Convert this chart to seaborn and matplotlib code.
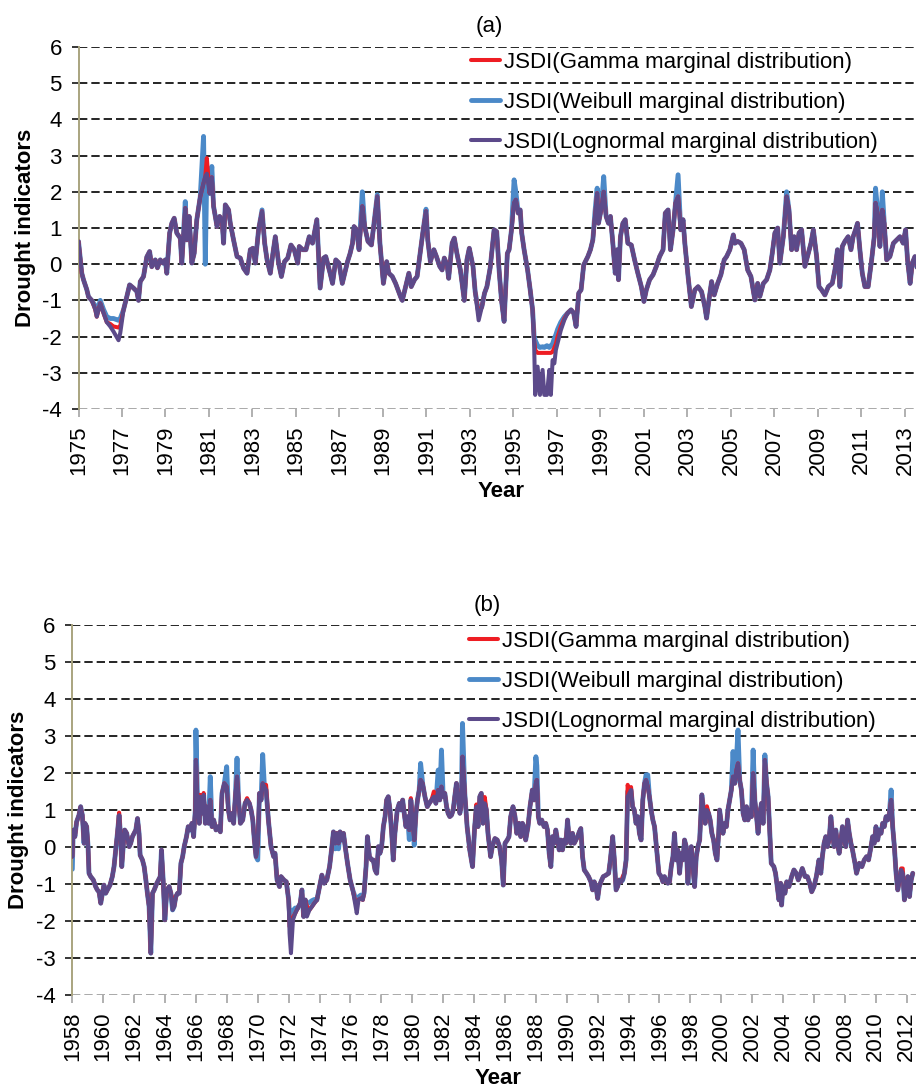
import numpy as np
import matplotlib
matplotlib.use("Agg")
import matplotlib.pyplot as plt
import seaborn as sns

# ---------------------------------------------------------------------------
# Monthly JSDI series (decimal years) for the two stations
# ---------------------------------------------------------------------------
SERIES_NAMES = [
    "JSDI(Gamma marginal distribution)",
    "JSDI(Weibull marginal distribution)",
    "JSDI(Lognormal marginal distribution)",
]

years_a = [
    1975.00, 1975.15, 1975.23, 1975.38, 1975.46, 1975.61, 1975.77, 1975.84, 1976.00, 1976.15,
    1976.30, 1976.46, 1976.61, 1976.84, 1976.92, 1977.07, 1977.22, 1977.35, 1977.53, 1977.68,
    1977.76, 1977.84, 1977.99, 1978.14, 1978.27, 1978.37, 1978.53, 1978.63, 1978.76, 1978.88,
    1978.99, 1979.06, 1979.19, 1979.29, 1979.40, 1979.52, 1979.68, 1979.75, 1979.91, 1979.98,
    1980.09, 1980.21, 1980.32, 1980.44, 1980.60, 1980.75, 1980.83, 1980.90, 1981.03, 1981.13,
    1981.21, 1981.37, 1981.49, 1981.60, 1981.67, 1981.75, 1981.90, 1981.98, 1982.13, 1982.29,
    1982.44, 1982.59, 1982.75, 1982.90, 1983.02, 1983.13, 1983.28, 1983.44, 1983.56, 1983.67,
    1983.82, 1983.94, 1984.05, 1984.20, 1984.33, 1984.47, 1984.62, 1984.77, 1984.92, 1985.08,
    1985.15, 1985.31, 1985.46, 1985.61, 1985.76, 1985.96, 1986.11, 1986.27, 1986.37, 1986.57,
    1986.68, 1986.83, 1986.98, 1987.13, 1987.24, 1987.37, 1987.49, 1987.60, 1987.67, 1987.79,
    1987.90, 1988.05, 1988.16, 1988.31, 1988.47, 1988.74, 1988.86, 1989.02, 1989.17, 1989.27,
    1989.43, 1989.58, 1989.81, 1989.89, 1990.04, 1990.19, 1990.30, 1990.45, 1990.57, 1990.73,
    1990.85, 1990.98, 1991.06, 1991.18, 1991.34, 1991.46, 1991.61, 1991.72, 1991.82, 1991.95,
    1992.02, 1992.18, 1992.28, 1992.40, 1992.56, 1992.74, 1992.86, 1992.97, 1993.14, 1993.24,
    1993.40, 1993.55, 1993.67, 1993.78, 1993.93, 1994.11, 1994.23, 1994.34, 1994.45, 1994.57,
    1994.72, 1994.80, 1994.91, 1995.03, 1995.11, 1995.22, 1995.31, 1995.38, 1995.49, 1995.65,
    1995.77, 1995.88, 1995.95, 1996.00, 1996.11, 1996.22, 1996.34, 1996.42, 1996.54, 1996.65,
    1996.72, 1996.80, 1996.88, 1996.95, 1997.03, 1997.18, 1997.34, 1997.49, 1997.65, 1997.77,
    1997.88, 1998.00, 1998.11, 1998.23, 1998.42, 1998.54, 1998.65, 1998.75, 1998.85, 1998.91,
    1999.03, 1999.15, 1999.26, 1999.37, 1999.46, 1999.57, 1999.68, 1999.77, 1999.83, 1999.92,
    2000.03, 2000.14, 2000.26, 2000.42, 2000.57, 2000.72, 2000.88, 2001.00, 2001.11, 2001.26,
    2001.42, 2001.57, 2001.72, 2001.88, 2001.98, 2002.11, 2002.22, 2002.34, 2002.45, 2002.57,
    2002.69, 2002.80, 2002.88, 2003.03, 2003.18, 2003.34, 2003.49, 2003.65, 2003.80, 2003.88,
    2003.99, 2004.11, 2004.23, 2004.39, 2004.54, 2004.69, 2004.80, 2004.95, 2005.11, 2005.18,
    2005.31, 2005.46, 2005.61, 2005.77, 2005.92, 2006.10, 2006.23, 2006.33, 2006.49, 2006.64,
    2006.79, 2006.90, 2007.02, 2007.15, 2007.25, 2007.41, 2007.56, 2007.67, 2007.79, 2007.91,
    2008.02, 2008.13, 2008.25, 2008.40, 2008.56, 2008.68, 2008.79, 2008.94, 2009.05, 2009.17,
    2009.32, 2009.48, 2009.66, 2009.78, 2009.90, 2010.01, 2010.12, 2010.24, 2010.39, 2010.52,
    2010.62, 2010.73, 2010.82, 2010.93, 2011.04, 2011.16, 2011.31, 2011.47, 2011.59, 2011.65,
    2011.77, 2011.85, 2011.96, 2012.05, 2012.16, 2012.31, 2012.47, 2012.62, 2012.77, 2012.92,
    2013.03, 2013.12, 2013.24, 2013.34, 2013.46, 2013.58,
]

lognormal_a = [
    0.63, -0.25, -0.43, -0.70, -0.90, -1.00, -1.25, -1.45, -1.08, -1.35,
    -1.60, -1.72, -1.86, -2.10, -1.90, -1.26, -0.90, -0.57, -0.66, -0.75,
    -1.00, -0.48, -0.34, 0.20, 0.35, -0.07, 0.12, -0.10, 0.12, 0.03,
    0.12, -0.25, 0.86, 1.13, 1.27, 0.86, 0.72, 0.03, 1.55, 0.67,
    1.32, 0.03, 0.30, 1.23, 1.87, 2.24, 2.42, 2.50, 1.96, 2.40,
    1.60, 1.04, 1.32, 1.23, 0.58, 1.64, 1.50, 1.13, 0.67, 0.21,
    0.17, -0.11, -0.25, 0.40, 0.44, 0.03, 0.95, 1.46, 0.58, 0.12,
    -0.25, 0.30, 0.76, 0.03, -0.34, 0.07, 0.17, 0.53, 0.40, 0.03,
    0.49, 0.40, 0.40, 0.76, 0.58, 1.23, -0.66, 0.17, 0.21, -0.25,
    -0.53, 0.12, 0.03, -0.53, -0.25, 0.07, 0.30, 0.58, 1.04, 0.95,
    0.40, 1.60, 1.04, 0.63, 0.53, 1.87, 0.58, -0.53, 0.07, -0.25,
    -0.34, -0.53, -0.90, -1.00, -0.62, -0.25, -0.62, -0.43, -0.34, 0.40,
    0.95, 1.46, 0.67, 0.07, 0.40, 0.21, -0.06, -0.16, 0.17, -0.02,
    -0.39, 0.58, 0.72, 0.30, -0.16, -1.00, 0.12, 0.44, -0.06, -0.76,
    -1.55, -1.17, -0.80, -0.62, -0.10, 0.95, 0.90, -0.16, -1.00, -1.58,
    0.30, 0.40, 0.95, 1.69, 1.78, 1.41, 1.50, 0.86, 0.40, -0.16,
    -0.71, -1.26, -2.18, -3.61, -2.83, -3.61, -2.92, -3.61, -3.61, -2.92,
    -3.61, -2.65, -2.74, -2.37, -2.18, -1.82, -1.54, -1.35, -1.26, -1.35,
    -1.72, -0.80, -0.71, -0.02, 0.21, 0.40, 0.67, 1.32, 1.96, 1.13,
    1.50, 2.00, 1.32, 1.13, 1.32, 0.58, -0.25, 0.40, -0.43, 0.76,
    1.13, 1.23, 0.58, 0.53, 0.12, -0.25, -0.62, -1.03, -0.71, -0.43,
    -0.29, -0.06, 0.21, 0.40, 1.41, 1.50, 0.40, 0.95, 1.69, 1.87,
    0.95, 1.23, 0.58, -0.34, -1.17, -0.71, -0.62, -0.76, -1.17, -1.49,
    -0.99, -0.48, -0.85, -0.53, -0.29, 0.12, 0.21, 0.40, 0.81, 0.58,
    0.63, 0.58, 0.40, -0.16, -0.34, -0.99, -0.53, -0.89, -0.53, -0.43,
    -0.16, 0.30, 0.86, 1.00, 0.03, 0.76, 1.87, 1.50, 0.40, 0.76,
    0.40, 0.86, 0.95, -0.06, 0.30, 0.58, 0.95, 0.21, -0.62, -0.71,
    -0.85, -0.62, -0.53, -0.16, 0.40, -0.62, 0.49, 0.63, 0.76, 0.40,
    0.76, 0.95, 1.13, 0.40, -0.25, -0.62, -0.62, 0.12, 0.76, 1.69,
    1.32, 0.49, 1.50, 1.13, 0.12, 0.21, 0.58, 0.67, 0.76, 0.58,
    0.95, 0.12, -0.53, 0.03, 0.21, -0.16,
]

# Months where the Gamma / Weibull curves separate from the Lognormal one
gamma_a_years = [1976.46, 1976.61, 1976.84, 1976.92, 1980.90, 1993.40,
                 1995.95, 1996.00, 1996.11, 1996.22, 1996.34, 1996.42, 1996.54,
                 1996.65, 1996.72, 1996.80, 1996.88, 1996.95, 1997.03, 1997.18, 1997.34]
gamma_a_vals = [-1.65, -1.72, -1.75, -1.70, 2.93, -1.40,
                -2.10, -2.37, -2.45, -2.45, -2.45, -2.45, -2.45,
                -2.45, -2.45, -2.42, -2.30, -2.20, -2.00, -1.72, -1.50]

weibull_a_years = [1975.77, 1975.84, 1976.00, 1976.15, 1976.30, 1976.46, 1976.61, 1976.84,
                   1976.92, 1979.91, 1980.75, 1980.83, 1980.90, 1981.03, 1981.13, 1983.44,
                   1988.05, 1988.74, 1990.98, 1993.40, 1995.03, 1995.11,
                   1995.95, 1996.00, 1996.11, 1996.22, 1996.34, 1996.42, 1996.54, 1996.65,
                   1996.72, 1996.80, 1996.88, 1996.95, 1997.03, 1997.18, 1997.34,
                   1998.75, 1998.85, 1999.15, 2002.57, 2007.56, 2011.65, 2011.96]
weibull_a_vals = [-1.15, -1.35, -1.00, -1.25, -1.45, -1.50, -1.50, -1.55,
                  -1.50, 1.73, 3.53, 0.00, 2.60, 1.95, 2.70, 1.50,
                  2.00, 1.92, 1.52, -1.32, 2.33, 2.00,
                  -2.00, -2.10, -2.25, -2.30, -2.28, -2.30, -2.25, -2.30,
                  -2.25, -2.20, -2.05, -1.95, -1.80, -1.60, -1.45,
                  1.45, 2.10, 2.42, 2.47, 2.00, 2.10, 2.00]

years_b = [
    1958.00, 1958.06, 1958.17, 1958.28, 1958.43, 1958.54, 1958.65, 1958.76, 1958.82, 1958.93,
    1959.02, 1959.08, 1959.19, 1959.36, 1959.51, 1959.62, 1959.73, 1959.84, 1959.95, 1960.05,
    1960.16, 1960.27, 1960.44, 1960.59, 1960.70, 1960.81, 1960.92, 1961.03, 1961.14, 1961.20,
    1961.31, 1961.39, 1961.52, 1961.68, 1961.78, 1961.89, 1962.00, 1962.11, 1962.22, 1962.32,
    1962.39, 1962.54, 1962.65, 1962.76, 1962.86, 1962.97, 1963.08, 1963.19, 1963.30, 1963.47,
    1963.69, 1963.77, 1963.88, 1963.99, 1964.12, 1964.27, 1964.38, 1964.49, 1964.59, 1964.70,
    1964.81, 1964.92, 1965.03, 1965.14, 1965.24, 1965.39, 1965.50, 1965.63, 1965.74, 1965.85,
    1965.96, 1966.00, 1966.11, 1966.22, 1966.28, 1966.39, 1966.50, 1966.61, 1966.71, 1966.82,
    1966.93, 1967.04, 1967.15, 1967.30, 1967.45, 1967.58, 1967.69, 1967.84, 1967.99, 1968.10,
    1968.21, 1968.34, 1968.44, 1968.55, 1968.66, 1968.76, 1968.88, 1969.03, 1969.18, 1969.31,
    1969.46, 1969.57, 1969.68, 1969.78, 1969.89, 1970.00, 1970.11, 1970.22, 1970.32, 1970.43,
    1970.54, 1970.69, 1970.86, 1971.03, 1971.12, 1971.25, 1971.41, 1971.51, 1971.69, 1971.85,
    1972.00, 1972.06, 1972.15, 1972.28, 1972.43, 1972.58, 1972.75, 1972.86, 1972.97, 1973.08,
    1973.18, 1973.35, 1973.51, 1973.66, 1973.83, 1974.00, 1974.15, 1974.30, 1974.47, 1974.65,
    1974.80, 1974.90, 1975.01, 1975.12, 1975.23, 1975.33, 1975.44, 1975.55, 1975.66, 1975.81,
    1975.98, 1976.15, 1976.30, 1976.41, 1976.52, 1976.67, 1976.80, 1976.88, 1977.01, 1977.10,
    1977.23, 1977.38, 1977.48, 1977.59, 1977.70, 1977.81, 1977.91, 1978.02, 1978.13, 1978.24,
    1978.34, 1978.45, 1978.56, 1978.67, 1978.77, 1978.88, 1979.03, 1979.16, 1979.27, 1979.38,
    1979.48, 1979.59, 1979.70, 1979.81, 1979.91, 1980.02, 1980.13, 1980.24, 1980.34, 1980.45,
    1980.54, 1980.67, 1980.82, 1980.97, 1981.10, 1981.25, 1981.40, 1981.53, 1981.68, 1981.78,
    1981.89, 1982.00, 1982.11, 1982.22, 1982.32, 1982.43, 1982.54, 1982.65, 1982.75, 1982.86,
    1982.97, 1983.08, 1983.18, 1983.25, 1983.40, 1983.55, 1983.72, 1983.90, 1984.04, 1984.15,
    1984.26, 1984.37, 1984.47, 1984.58, 1984.69, 1984.80, 1984.90, 1985.07, 1985.18, 1985.35,
    1985.50, 1985.65, 1985.78, 1985.89, 1986.00, 1986.15, 1986.26, 1986.37, 1986.52, 1986.65,
    1986.76, 1986.91, 1987.02, 1987.13, 1987.23, 1987.34, 1987.49, 1987.62, 1987.77, 1987.88,
    1988.00, 1988.06, 1988.16, 1988.25, 1988.38, 1988.53, 1988.64, 1988.75, 1988.86, 1988.97,
    1989.07, 1989.18, 1989.29, 1989.40, 1989.51, 1989.61, 1989.72, 1989.83, 1989.94, 1990.05,
    1990.16, 1990.26, 1990.37, 1990.48, 1990.59, 1990.70, 1990.81, 1990.91, 1991.02, 1991.13,
    1991.28, 1991.41, 1991.56, 1991.67, 1991.78, 1991.89, 1992.00, 1992.10, 1992.21, 1992.36,
    1992.54, 1992.71, 1992.82, 1992.97, 1993.08, 1993.19, 1993.29, 1993.40, 1993.51, 1993.62,
    1993.73, 1993.84, 1993.94, 1994.05, 1994.16, 1994.26, 1994.37, 1994.48, 1994.59, 1994.70,
    1994.81, 1994.92, 1995.03, 1995.13, 1995.24, 1995.35, 1995.46, 1995.57, 1995.68, 1995.78,
    1995.96, 1996.11, 1996.22, 1996.32, 1996.43, 1996.54, 1996.65, 1996.76, 1996.87, 1996.97,
    1997.08, 1997.19, 1997.30, 1997.41, 1997.52, 1997.62, 1997.73, 1997.84, 1997.95, 1998.06,
    1998.16, 1998.27, 1998.38, 1998.49, 1998.60, 1998.74, 1998.85, 1998.96, 1999.07, 1999.18,
    1999.28, 1999.39, 1999.50, 1999.61, 1999.72, 1999.83, 1999.89, 2000.00, 2000.11, 2000.22,
    2000.33, 2000.43, 2000.54, 2000.65, 2000.76, 2000.87, 2000.98, 2001.08, 2001.19, 2001.30,
    2001.41, 2001.52, 2001.63, 2001.73, 2001.84, 2001.95, 2002.06, 2002.17, 2002.28, 2002.38,
    2002.49, 2002.60, 2002.71, 2002.82, 2002.93, 2003.03, 2003.14, 2003.23, 2003.40, 2003.51,
    2003.62, 2003.73, 2003.84, 2003.90, 2003.99, 2004.12, 2004.23, 2004.38, 2004.55, 2004.70,
    2004.85, 2004.98, 2005.14, 2005.24, 2005.42, 2005.57, 2005.72, 2005.85, 2006.00, 2006.15,
    2006.32, 2006.44, 2006.54, 2006.65, 2006.76, 2006.87, 2006.98, 2007.09, 2007.19, 2007.30,
    2007.41, 2007.52, 2007.63, 2007.74, 2007.84, 2007.95, 2008.06, 2008.17, 2008.28, 2008.39,
    2008.49, 2008.65, 2008.75, 2008.93, 2009.10, 2009.25, 2009.40, 2009.53, 2009.69, 2009.79,
    2009.90, 2010.01, 2010.12, 2010.23, 2010.34, 2010.44, 2010.55, 2010.66, 2010.77, 2010.88,
    2010.99, 2011.09, 2011.20, 2011.31, 2011.42, 2011.53, 2011.64, 2011.74, 2011.85, 2011.96,
    2012.07, 2012.18, 2012.29, 2012.39,
]

lognormal_b = [
    -0.26, 0.46, 0.28, 0.68, 0.86, 1.09, 0.86, 0.10, 0.64, 0.55,
    0.01, -0.71, -0.80, -0.89, -1.07, -1.16, -1.21, -1.52, -1.25, -1.03,
    -1.25, -1.16, -1.03, -0.80, -0.53, -0.08, 0.37, 0.86, 0.19, -0.53,
    0.10, 0.46, 0.37, 0.01, 0.10, 0.28, 0.37, 0.46, 0.77, 0.37,
    -0.22, -0.35, -0.53, -0.89, -1.25, -1.61, -2.87, -1.25, -1.16, -0.98,
    -0.80, -0.08, -0.89, -1.97, -1.16, -1.07, -1.25, -1.70, -1.61, -1.34,
    -1.25, -1.25, -0.44, -0.26, 0.01, 0.28, 0.55, 0.46, 0.64, 0.28,
    1.00, 2.35, 1.09, 0.64, 1.36, 0.91, 1.41, 0.64, 1.09, 0.64,
    1.27, 0.55, 0.73, 0.46, 0.55, 0.41, 1.45, 1.72, 1.63, 1.00,
    0.73, 0.91, 0.64, 1.36, 1.90, 1.27, 0.64, 0.73, 1.18, 1.27,
    1.18, 1.00, 0.73, 0.19, -0.26, 0.10, 1.45, 1.27, 1.72, 1.63,
    1.54, 0.73, 0.01, -0.26, -0.17, -0.89, -1.07, -0.80, -0.89, -0.94,
    -1.43, -2.33, -2.87, -1.97, -1.79, -1.66, -1.52, -1.16, -1.88, -1.43,
    -1.88, -1.70, -1.61, -1.52, -1.43, -1.07, -0.76, -0.98, -0.89, -0.53,
    0.01, 0.41, 0.10, 0.37, 0.10, 0.41, 0.19, 0.37, 0.01, -0.44,
    -0.89, -1.16, -1.52, -1.79, -1.43, -1.39, -1.43, -1.25, -0.53, 0.28,
    -0.26, -0.35, -0.35, -0.62, -0.71, 0.01, -0.17, 0.01, 0.55, 0.82,
    1.27, 1.36, 1.00, 0.37, -0.35, 0.37, 1.00, 1.18, 1.00, 1.27,
    0.91, 0.55, 0.82, 0.46, 1.27, 0.73, 0.19, 0.91, 1.27, 1.54,
    1.81, 1.72, 1.36, 1.09, 1.18, 1.27, 1.36, 1.18, 1.54, 1.27,
    1.63, 1.36, 1.45, 1.09, 0.91, 0.82, 0.86, 1.00, 1.36, 1.72,
    1.36, 0.91, 1.18, 2.44, 1.45, 0.55, -0.08, -0.53, 0.55, 1.09,
    0.55, 1.36, 1.45, 0.64, 1.18, 1.00, 0.37, -0.26, 0.01, 0.23,
    0.19, 0.01, -0.35, -1.03, 0.10, 0.19, 0.28, 0.82, 1.09, 0.82,
    0.37, 0.64, 0.28, 0.64, 0.55, 0.19, 0.55, 1.09, 1.54, 1.27,
    1.72, 1.81, 0.82, 0.64, 0.73, 0.55, 0.64, 0.46, -0.17, -0.53,
    0.28, 0.10, 0.46, 0.19, -0.08, 0.19, -0.08, 0.19, 0.10, 0.73,
    0.19, 0.10, 0.37, 0.10, 0.19, 0.28, 0.41, 0.50, -0.26, -0.62,
    -0.71, -0.80, -0.94, -1.16, -0.94, -1.07, -1.39, -1.07, -0.94, -0.80,
    -0.76, -0.71, -0.35, 0.28, -0.35, -1.16, -1.07, -0.89, -0.94, -0.89,
    -0.71, -0.35, 1.36, 1.45, 1.54, 1.09, 1.00, 0.64, 0.82, 0.37,
    0.19, 1.27, 1.72, 1.81, 1.63, 1.36, 1.00, 0.73, 0.55, 0.10,
    -0.71, -0.80, -0.94, -0.80, -0.89, -0.98, -0.94, -0.53, -0.26, 0.37,
    -0.35, -0.08, -0.71, -0.17, -0.35, 0.19, 0.01, -0.98, -0.17, 0.01,
    -0.53, -1.07, -0.26, 0.01, 0.19, 1.41, 1.00, 0.64, 1.00, 0.91,
    0.73, 0.37, 0.19, -0.17, -0.35, 0.37, 1.00, 0.64, 0.37, 0.64,
    0.55, 1.00, 1.27, 1.54, 1.90, 1.72, 2.08, 2.26, 1.81, 1.54,
    0.91, 0.73, 1.09, 0.73, 1.00, 0.82, 1.99, 1.27, 0.82, 0.37,
    0.91, 1.18, 0.64, 2.35, 1.72, 1.36, 0.37, -0.44, -0.53, -0.71,
    -1.07, -1.43, -0.98, -1.57, -1.07, -1.25, -0.94, -1.07, -0.80, -0.62,
    -0.71, -0.89, -0.71, -0.58, -0.80, -0.80, -0.98, -1.21, -1.07, -0.80,
    -0.35, -0.71, -0.26, 0.10, 0.28, 0.01, 0.19, 0.82, 0.37, 0.01,
    0.46, 0.10, -0.17, 0.19, 0.55, 0.19, 0.01, 0.73, 0.37, 0.10,
    -0.08, -0.44, -0.71, -0.44, -0.53, -0.35, -0.26, -0.35, 0.01, 0.28,
    0.10, 0.55, 0.19, 0.46, 0.37, 0.64, 0.55, 0.82, 0.73, 0.91,
    1.27, 0.55, 0.01, -0.71, -1.16, -0.89, -0.62, -0.71, -1.43, -1.07,
    -0.80, -1.34, -0.89, -0.71,
]

gamma_b_years = [1961.03, 1964.49, 1966.28, 1966.50, 1969.31, 1970.54, 1972.06, 1972.15,
                 1972.28, 1973.18, 1976.30, 1976.41, 1979.91, 1981.40, 1984.15, 1984.69,
                 1993.62, 1993.94, 1994.16, 1999.07, 2011.64, 2011.74]
gamma_b_vals = [0.93, -1.43, 1.41, 1.46, 1.32, 1.68, -2.15, -2.20,
                -1.90, -1.60, -1.45, -1.55, 1.32, 1.50, 1.15, 1.35,
                -0.80, 1.68, 1.62, 1.10, -0.58, -0.58]

weibull_b_years = [1958.00, 1966.00, 1966.93, 1967.99, 1968.66, 1970.00, 1970.32, 1972.06,
                   1972.15, 1972.28, 1972.43, 1973.18, 1973.35, 1973.51, 1973.66, 1975.01,
                   1975.23, 1976.30, 1976.41, 1976.52, 1976.67, 1976.80, 1979.81, 1980.13,
                   1980.54, 1981.68, 1981.89, 1983.25, 1988.00, 1988.06, 1993.94, 1995.13,
                   1995.24, 2000.76, 2000.98, 2001.08, 2002.06, 2002.82, 2010.99]
weibull_b_vals = [-0.60, 3.16, 1.90, 2.17, 2.40, -0.35, 2.50, -1.80,
                  -1.85, -1.72, -1.65, -1.55, -1.50, -1.45, -1.42, -0.05,
                  -0.05, -1.35, -1.45, -1.35, -1.30, -1.35, 0.20, 0.05,
                  2.26, 2.08, 2.62, 3.34, 2.44, 2.20, 1.50, 1.95,
                  1.95, 2.58, 2.35, 3.16, 2.62, 2.49, 1.54]

xticks_a = list(range(1975, 2014, 2))
xticks_b = list(range(1958, 2013, 2))
yticks = list(range(-4, 7))

assert len(years_a) == len(lognormal_a)
assert len(years_b) == len(lognormal_b)
assert len(gamma_a_years) == len(gamma_a_vals)
assert len(weibull_a_years) == len(weibull_a_vals)
assert len(gamma_b_years) == len(gamma_b_vals)
assert len(weibull_b_years) == len(weibull_b_vals)


def companion_series(years, shared, at_years, at_vals):
    """Series that follows the shared curve except at the listed months."""
    out = np.array(shared, dtype=float)
    yrs = np.asarray(years, dtype=float)
    for y, v in zip(at_years, at_vals):
        out[int(np.argmin(np.abs(yrs - y)))] = v
    return out


gamma_a = companion_series(years_a, lognormal_a, gamma_a_years, gamma_a_vals)
weibull_a = companion_series(years_a, lognormal_a, weibull_a_years, weibull_a_vals)
gamma_b = companion_series(years_b, lognormal_b, gamma_b_years, gamma_b_vals)
weibull_b = companion_series(years_b, lognormal_b, weibull_b_years, weibull_b_vals)

# ---------------------------------------------------------------------------
# Styling
# ---------------------------------------------------------------------------
sns.set_theme(style="white", rc={
    "text.color": "black", "axes.labelcolor": "black",
    "xtick.color": "black", "ytick.color": "black",
})
plt.rcParams["font.family"] = ["Liberation Sans", "DejaVu Sans"]
plt.rcParams["axes.unicode_minus"] = False

C_GAMMA = "#EE1D23"
C_WEIBULL = "#4B89C8"
C_LOGN = "#5C4A8A"
SPINE = "#A9A47F"
TICK_FS = 16
LABEL_FS = 16

W, H = 916, 1089
fig = plt.figure(figsize=(W / 100, H / 100), dpi=100)


def px_axes(left, top, right, bottom):
    return fig.add_axes([left / W, 1 - bottom / H, (right - left) / W, (bottom - top) / H])


def draw_panel(ax, years, gamma, weibull, lognorm, xlim, xticks, title, title_x,
               title_pad, ylabel_x, xlabel_xy, legend_xy):
    specs = [
        (gamma, SERIES_NAMES[0], C_GAMMA, 2.9, 3),
        (weibull, SERIES_NAMES[1], C_WEIBULL, 3.5, 2),
        (lognorm, SERIES_NAMES[2], C_LOGN, 2.9, 4),
    ]
    for vals, name, color, lw, z in specs:
        sns.lineplot(x=years, y=vals, ax=ax, color=color, linewidth=lw, label=name,
                     zorder=z, estimator=None, sort=False,
                     solid_joinstyle="round", solid_capstyle="round")

    ax.set_xlim(*xlim)
    ax.set_ylim(-4, 6)
    ax.set_yticks(yticks)
    ax.set_yticklabels([str(v) for v in yticks])
    ax.set_xticks(xticks)
    ax.set_xticklabels([str(t) for t in xticks], rotation=90)

    ax.set_axisbelow(True)
    ax.grid(axis="y", color="black", linestyle=(0, (5.0, 2.4)), linewidth=1.2)
    ax.grid(axis="x", visible=False)
    ax.yaxis.get_gridlines()[0].set_color("#9B9B9B")

    for side in ("top", "right", "bottom"):
        ax.spines[side].set_visible(False)
    ax.spines["left"].set_color(SPINE)
    ax.spines["left"].set_linewidth(1.4)

    ax.tick_params(axis="y", direction="out", length=5, width=1.1, color="black",
                   pad=7, labelsize=TICK_FS, left=True)
    ax.tick_params(axis="x", direction="out", length=5.5, width=1.1, color="#9B9B9B",
                   pad=6.5, labelsize=TICK_FS, bottom=True)

    ax.set_title(title, fontsize=16, x=title_x, pad=title_pad)
    ax.set_ylabel("Drought indicators", fontsize=LABEL_FS, fontweight="bold")
    ax.yaxis.set_label_coords(ylabel_x, 0.5)
    ax.set_xlabel("Year", fontsize=LABEL_FS, fontweight="bold")
    ax.xaxis.set_label_coords(*xlabel_xy)
    ax.xaxis.label.set_verticalalignment("top")

    ax.legend(loc="upper left", bbox_to_anchor=(legend_xy[0] / W, 1 - legend_xy[1] / H),
              bbox_transform=fig.transFigure, frameon=False, fontsize=16,
              handlelength=1.3, handletextpad=0.2, labelspacing=0.85,
              borderpad=0, borderaxespad=0)


ax_a = px_axes(78.5, 47, 916, 409)
draw_panel(ax_a, years_a, gamma_a, weibull_a, lognormal_a,
           xlim=(1975, 2013.51), xticks=xticks_a, title="(a)",
           title_x=(489 - 78.5) / 837.5, title_pad=11,
           ylabel_x=(36 - 78.5) / 837.5,
           xlabel_xy=((501 - 78.5) / 837.5, (409 - 481) / 362),
           legend_xy=(471, 52))

ax_b = px_axes(72.3, 625, 916, 995)
draw_panel(ax_b, years_b, gamma_b, weibull_b, lognormal_b,
           xlim=(1958, 2012.6), xticks=xticks_b, title="(b)",
           title_x=(487 - 72.3) / 843.7, title_pad=10,
           ylabel_x=(29.5 - 72.3) / 843.7,
           xlabel_xy=((498.5 - 72.3) / 843.7, (995 - 1068) / 370),
           legend_xy=(469, 631))

fig.savefig("out.png", dpi=100, facecolor="white")
